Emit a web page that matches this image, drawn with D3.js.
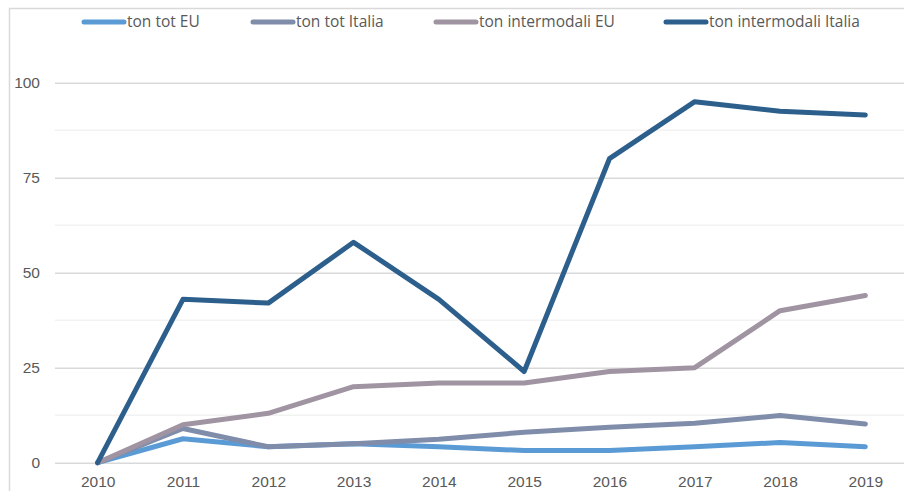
<!DOCTYPE html>
<html>
<head>
<meta charset="utf-8">
<script src="https://cdn.jsdelivr.net/npm/d3@7"></script>
<style>
  body { margin: 0; background: #fff; }
  svg { display: block; font-family: "Open Sans", "Liberation Sans", sans-serif; }
</style>
</head>
<body>
<svg></svg>
<script>
const years = ["2010","2011","2012","2013","2014","2015","2016","2017","2018","2019"];
const totEU = [0, 6.3, 4.2, 5, 4.2, 3.2, 3.2, 4.2, 5.3, 4.2];
const totItalia = [0, 9, 4.2, 5, 6.2, 8, 9.3, 10.4, 12.4, 10.2];
const intermodaliEU = [0, 10, 13, 20, 21, 21, 24, 25, 40, 44];
const intermodaliItalia = [0, 43, 42, 58, 43, 24, 80, 95, 92.5, 91.5];
const yTicks = [0, 25, 50, 75, 100];
const minorTicks = [12.5, 37.5, 62.5, 87.5];

const seriesNames = ["ton tot EU","ton tot Italia","ton intermodali EU","ton intermodali Italia"];
const seriesValues = [totEU, totItalia, intermodaliEU, intermodaliItalia];
const colors = ["#5b9bd5","#7f8dab","#a094a2","#2c5f8c"];

let width = 904, height = 491,
    plotLeft = 55, plotRight = 908, plotTop = 82.7, plotBottom = 462.7;

let svg = d3.select("svg").attr("width", width).attr("height", height);

let xScale = d3.scalePoint().domain(years).range([plotLeft, plotRight]).padding(0.5),
    yScale = d3.scaleLinear().domain([0, 100]).range([plotBottom, plotTop]);

// chart frame
svg.append("path")
  .attr("d", `M9.5,${height} V8.5 H${width}`)
  .attr("fill", "none")
  .attr("stroke", "#d9d9d9")
  .attr("stroke-width", 1.5);

// minor gridlines
svg.append("g")
  .selectAll("line")
  .data(minorTicks)
  .enter()
  .append("line")
  .attr("x1", plotLeft).attr("x2", width)
  .attr("y1", d => yScale(d)).attr("y2", d => yScale(d))
  .attr("stroke", "#f2f2f2")
  .attr("stroke-width", 1.5);

// y axis with major gridlines
let yAxis = d3.axisLeft(yScale).tickValues(yTicks).tickSize(-(width - plotLeft)).tickPadding(15);
let gy = svg.append("g")
  .attr("transform", `translate(${plotLeft},0)`)
  .call(yAxis);
gy.select(".domain").remove();
gy.selectAll(".tick line").attr("stroke", "#d9d9d9").attr("stroke-width", 1.5);
gy.selectAll(".tick text").attr("fill", "#595959").style("font-size", "15.5px");

// x axis labels
let xAxis = d3.axisBottom(xScale).tickSize(0).tickPadding(13);
let gx = svg.append("g")
  .attr("transform", `translate(0,${plotBottom})`)
  .call(xAxis);
gx.select(".domain").remove();
gx.selectAll(".tick text").attr("fill", "#595959").style("font-size", "15.5px");

// lines
let line = d3.line().x((d, i) => xScale(years[i])).y(d => yScale(d));
svg.append("g")
  .selectAll("path")
  .data(seriesValues)
  .enter()
  .append("path")
  .attr("d", d => line(d))
  .attr("fill", "none")
  .attr("stroke", (d, i) => colors[i])
  .attr("stroke-width", 5)
  .attr("stroke-linejoin", "round")
  .attr("stroke-linecap", "round");

// legend
const legendX = [84, 253, 436, 666];
let legend = svg.append("g")
  .selectAll("g")
  .data(seriesNames)
  .enter()
  .append("g")
  .attr("transform", (d, i) => `translate(${legendX[i]},22)`);

legend.append("line")
  .attr("x1", 0).attr("x2", 40)
  .attr("stroke", (d, i) => colors[i])
  .attr("stroke-width", 5)
  .attr("stroke-linecap", "round");

legend.append("text")
  .attr("x", 43)
  .attr("dy", "0.35em")
  .text(d => d)
  .attr("fill", "#595959")
  .style("font-size", "15.5px");
</script>
</body>
</html>
